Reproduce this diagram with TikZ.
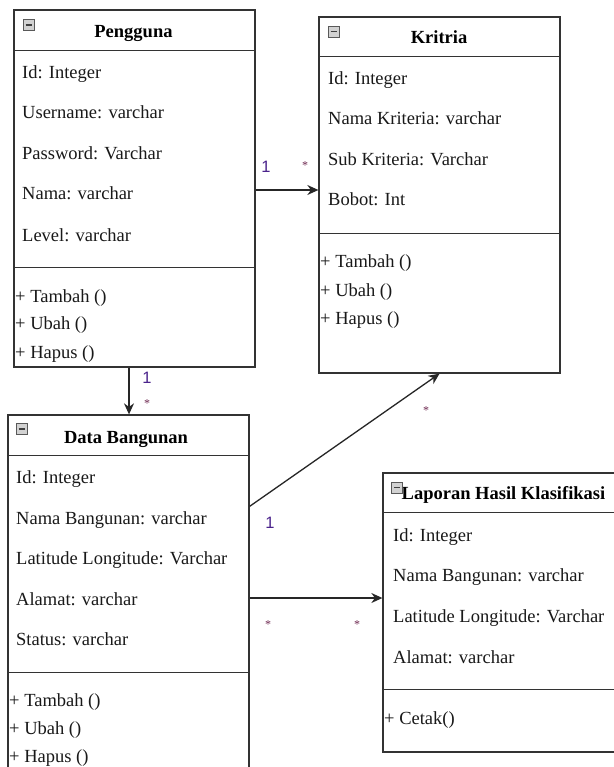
\documentclass[tikz,border=0pt]{standalone}
\usepackage{fontspec}
\setmainfont{Liberation Serif}
\newfontfamily\labelsans{Liberation Sans}
\usetikzlibrary{arrows.meta,calc}
\definecolor{boxline}{HTML}{333333}
\definecolor{mullabel}{RGB}{75,35,140}
\definecolor{starlabel}{RGB}{110,40,80}
\tikzset{
  classbox/.style={draw=boxline, line width=1.3pt, fill=white, inner sep=0pt, minimum width=241pt},
  divline/.style={draw=boxline, line width=1.3pt},
  title/.style={font=\fontsize{18.5}{22}\selectfont\bfseries, inner sep=0pt, anchor=base},
  attr/.style={font=\fontsize{18.5}{22}\selectfont, inner sep=0pt, anchor=base west, text=black!90},
  meth/.style={font=\fontsize{18.5}{22}\selectfont, inner sep=0pt, anchor=base west, text=black!90},
  minusicon/.style={draw=gray!70!black, fill=gray!35, line width=0.6pt, minimum size=11pt, inner sep=0pt,
    path picture={\draw[line width=1.4pt, black!75] ([xshift=2.5pt]path picture bounding box.west) -- ([xshift=-2.5pt]path picture bounding box.east);}},
  conn/.style={draw=black!85, line width=1.3pt, -{Stealth[length=11pt,width=10pt]}},
  onelabel/.style={font=\labelsans\fontsize{16.5}{18}\selectfont, text=mullabel, inner sep=0pt},
  starlabel/.style={font=\fontsize{12}{14}\selectfont, text=starlabel, inner sep=0pt},
}
\begin{document}
\begin{tikzpicture}[x=1pt,y=-1pt]
\useasboundingbox (0,0) rectangle (613,767);
\fill[white] (0,0) rectangle (613,767);

% ---------- Pengguna ----------
\node[classbox, minimum height=357pt] (pengguna) at (134.5,188.5) {};
\draw[divline] ($(pengguna.north west)+(0,41)$) -- ($(pengguna.north east)+(0,41)$);
\draw[divline] ($(pengguna.north west)+(0,258)$) -- ($(pengguna.north east)+(0,258)$);
\node[minusicon] (pmin) at (28.5,25) {};
\node[title] (ptitle) at (133.5,38) {Pengguna};
\node[attr] (pa1) at (22,79) {Id: Integer};
\node[attr] (pa2) at (22,119) {Username: varchar};
\node[attr] (pa3) at (22,160) {Password: Varchar};
\node[attr] (pa4) at (22,200) {Nama: varchar};
\node[attr] (pa5) at (22,241) {Level: varchar};
\node[meth] (pm1) at (15,302) {+ Tambah ()};
\node[meth] (pm2) at (15,329) {+ Ubah ()};
\node[meth] (pm3) at (15,358) {+ Hapus ()};

% ---------- Kritria ----------
\node[classbox, minimum height=356pt] (kritria) at (439.5,195) {};
\draw[divline] ($(kritria.north west)+(0,40)$) -- ($(kritria.north east)+(0,40)$);
\draw[divline] ($(kritria.north west)+(0,217)$) -- ($(kritria.north east)+(0,217)$);
\node[minusicon] (kmin) at (333.5,31.5) {};
\node[title] (ktitle) at (439,44) {Kritria};
\node[attr] (ka1) at (328,85) {Id: Integer};
\node[attr] (ka2) at (328,125) {Nama Kriteria: varchar};
\node[attr] (ka3) at (328,166) {Sub Kriteria: Varchar};
\node[attr] (ka4) at (328,206) {Bobot: Int};
\node[meth] (km1) at (320,267) {+ Tambah ()};
\node[meth] (km2) at (320,296) {+ Ubah ()};
\node[meth] (km3) at (320,324) {+ Hapus ()};

% ---------- Data Bangunan ----------
\node[classbox, minimum height=366pt] (databang) at (128.5,598) {};
\draw[divline] ($(databang.north west)+(0,41)$) -- ($(databang.north east)+(0,41)$);
\draw[divline] ($(databang.north west)+(0,258)$) -- ($(databang.north east)+(0,258)$);
\node[minusicon] (dmin) at (21.5,429) {};
\node[title] (dtitle) at (126,443) {Data Bangunan};
\node[attr] (da1) at (16,483) {Id: Integer};
\node[attr] (da2) at (16,524) {Nama Bangunan: varchar};
\node[attr] (da3) at (16,564) {Latitude Longitude: Varchar};
\node[attr] (da4) at (16,605) {Alamat: varchar};
\node[attr] (da5) at (16,645) {Status: varchar};
\node[meth] (dm1) at (9,706) {+ Tambah ()};
\node[meth] (dm2) at (9,734) {+ Ubah ()};
\node[meth] (dm3) at (9,762) {+ Hapus ()};

% ---------- Laporan Hasil Klasifikasi ----------
\node[classbox, minimum height=279pt] (laporan) at (503.5,612.5) {};
\draw[divline] ($(laporan.north west)+(0,40)$) -- ($(laporan.north east)+(0,40)$);
\draw[divline] ($(laporan.north west)+(0,217)$) -- ($(laporan.north east)+(0,217)$);
\node[title] (ltitle) at (503.5,499) {Laporan Hasil Klasifikasi};
\node[minusicon] (lmin) at (397,487.5) {};
\node[attr] (la1) at (393,541) {Id: Integer};
\node[attr] (la2) at (393,581) {Nama Bangunan: varchar};
\node[attr] (la3) at (393,622) {Latitude Longitude: Varchar};
\node[attr] (la4) at (393,663) {Alamat: varchar};
\node[meth] (lm1) at (384,724) {+ Cetak()};

% ---------- connectors ----------
\coordinate (pkstart) at ($(pengguna.east)+(0,1.5)$);
\coordinate (pdstart) at ($(pengguna.south)+(-5.5,0)$);
\coordinate (dkstart) at ($(databang.north east)+(0,92)$);
\draw[conn] (pkstart) -- (pkstart -| kritria.west);
\draw[conn] (pdstart) -- (pdstart |- databang.north);
\draw[conn] (dkstart) -- (kritria.south);
\draw[conn] (databang.east) -- (databang.east -| laporan.west);

% ---------- multiplicities ----------
\node[onelabel] (l1a) at (266,167) {1};
\node[starlabel] (l1b) at (305,166) {*};
\node[onelabel] (l2a) at (147,378) {1};
\node[starlabel] (l2b) at (147,404) {*};
\node[onelabel] (l3a) at (270,523) {1};
\node[starlabel] (l3b) at (426,411) {*};
\node[starlabel] (l4a) at (268,625) {*};
\node[starlabel] (l4b) at (357,625) {*};
\end{tikzpicture}
\end{document}
